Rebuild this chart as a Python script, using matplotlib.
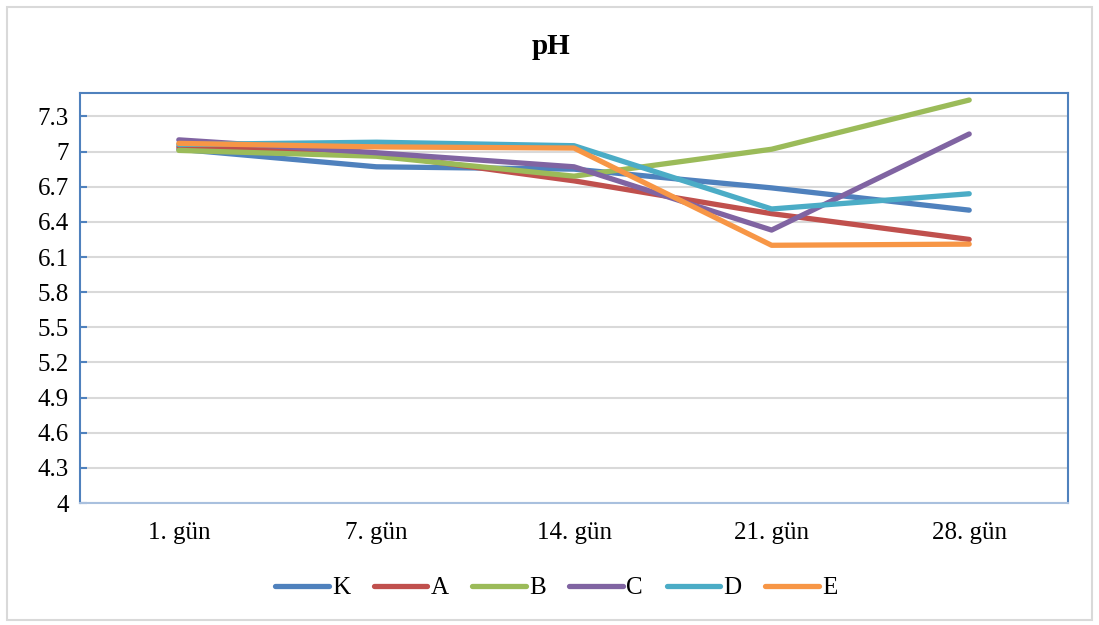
import matplotlib.pyplot as plt
from matplotlib.patches import Rectangle

# Data
days = ['1. gün', '7. gün', '14. gün', '21. gün', '28. gün']
K = [7.02, 6.87, 6.85, 6.69, 6.50]
A = [7.04, 6.98, 6.75, 6.47, 6.25]
B = [7.01, 6.96, 6.79, 7.02, 7.44]
C = [7.10, 6.99, 6.87, 6.33, 7.15]
D = [7.06, 7.08, 7.05, 6.51, 6.64]
E = [7.07, 7.04, 7.03, 6.20, 6.21]
yticks = [4, 4.3, 4.6, 4.9, 5.2, 5.5, 5.8, 6.1, 6.4, 6.7, 7, 7.3]
ytick_labels = ['4', '4.3', '4.6', '4.9', '5.2', '5.5', '5.8', '6.1', '6.4', '6.7', '7', '7.3']

series = [('K', K, '#4F81BD'), ('A', A, '#C0504D'), ('B', B, '#9BBB59'),
          ('C', C, '#8064A2'), ('D', D, '#4BACC6'), ('E', E, '#F79646')]

plt.rcParams['font.family'] = ['Liberation Serif', 'DejaVu Serif']

fig = plt.figure(figsize=(10.99, 6.25), dpi=100)
ax = fig.add_axes([0.0728, 0.1952, 0.899, 0.656])

x = list(range(len(days)))
for name, vals, col in series:
    ax.plot(x, vals, color=col, linewidth=3.8, solid_capstyle='round',
            solid_joinstyle='round', label=name)

ax.set_xlim(-0.5, len(days) - 0.5)
ax.set_ylim(4, 7.5)
ax.set_yticks(yticks)
ax.set_yticklabels(ytick_labels, fontsize=18)
ax.set_xticks(x)
ax.set_xticklabels(days, fontsize=18)
ax.yaxis.grid(True, color='#d9d9d9', linewidth=1.5)
ax.set_axisbelow(True)
ax.tick_params(axis='y', direction='in', length=5, width=1.5, color='#4F81BD', pad=8)
ax.tick_params(axis='x', length=0, pad=14)
for s in ax.spines.values():
    s.set_color('#4F81BD')
    s.set_linewidth(1.5)
ax.spines['bottom'].set_color('#a9c0de')

fig.text(0.501, 0.925, 'pH', ha='center', va='center', fontsize=21, fontweight='bold')

fig.legend(loc='center', bbox_to_anchor=(0.506, 0.059), ncol=6, frameon=False,
           fontsize=18, handlelength=2.15, handletextpad=0.12, columnspacing=0.95)

fig.patches.append(Rectangle((0.0065, 0.008), 0.987, 0.981, transform=fig.transFigure,
                             fill=False, edgecolor='#d9d9d9', linewidth=1.5))

plt.savefig('out.png', dpi=100)
